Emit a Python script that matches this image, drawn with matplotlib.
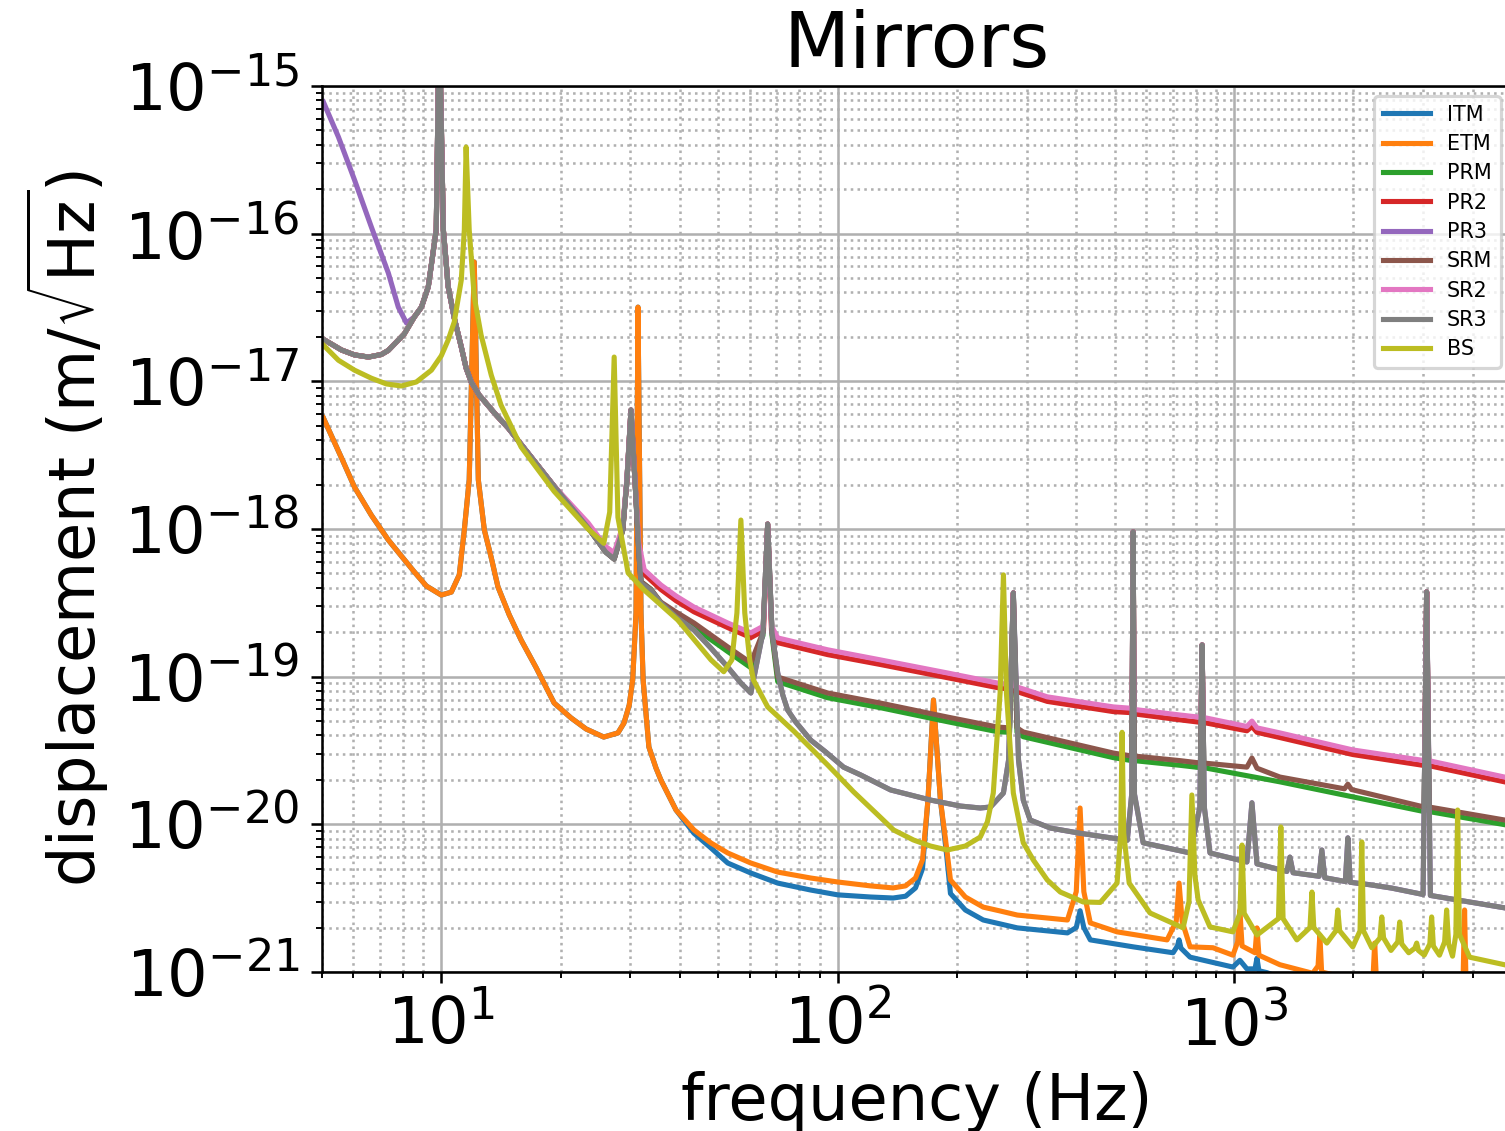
import matplotlib
matplotlib.use("Agg")
import matplotlib.pyplot as plt

plt.rcParams['font.size'] = 20

# frequencies in Hz, displacement in m/sqrt(Hz)

# low frequency part shared by the small optics (SR3 traced)
tt_low_f = [5.0, 5.6, 6.04, 6.55, 7.06, 7.35, 8.07, 8.55, 8.91, 9.27,
            9.71, 9.88, 10.12, 10.41, 10.78, 11.23, 11.55, 11.9, 12.46, 13.75,
            14.75, 19.26]
tt_low_v = [1.95e-17, 1.63e-17, 1.51e-17, 1.46e-17, 1.52e-17, 1.62e-17, 2.1e-17, 2.73e-17, 3.18e-17, 4.36e-17,
            1.06e-16, 3e-15, 1.06e-16, 4.36e-17, 2.69e-17, 1.71e-17, 1.23e-17, 9.9e-18, 8.07e-18, 5.92e-18,
            4.83e-18, 1.95e-18]

# PR3 only shows below 9 Hz, above that it sits under SR3
pr3_low_f = [5.04, 5.5, 6.04, 6.66, 7.35, 7.79, 8.17]
pr3_low_v = [7.8e-16, 4.52e-16, 2.31e-16, 1.11e-16, 5.42e-17, 3.18e-17, 2.48e-17]

sr3_f = [23.46, 26.0, 27.3, 28.7, 29.4, 30.1, 30.8, 31.5, 31.9, 33.8,
         35.8, 39.1, 43.4, 47.9, 52.8, 57.0, 60.4, 64.8, 66.6, 68.3,
         70.6, 72.7, 74.8, 78.4, 85.5, 93.3, 103.5, 114.3, 136, 171.5,
         204, 229, 243, 262, 270, 277.5, 286, 294, 306, 344,
         409, 538, 552, 556.6, 561, 590, 775, 820, 831, 842,
         870, 1078, 1110, 1143, 1360, 1384, 1410, 1640, 1666, 1695,
         1910, 1938, 1965, 2201, 2500, 3000, 3063, 3130, 4815]
sr3_v = [1.02e-18, 6.98e-19, 6.26e-19, 9.85e-19, 2.15e-18, 6.4e-18, 2.15e-18, 7.0e-19, 4.3e-19, 3.86e-19,
         3.16e-19, 2.54e-19, 2.07e-19, 1.56e-19, 1.16e-19, 9.06e-20, 7.75e-20, 2.0e-19, 1.08e-18, 2.0e-19,
         1.06e-19, 7.52e-20, 5.94e-20, 4.93e-20, 3.72e-20, 3.09e-20, 2.44e-20, 2.16e-20, 1.71e-20, 1.46e-20,
         1.33e-20, 1.29e-20, 1.31e-20, 1.63e-20, 2.73e-20, 3.69e-19, 2.73e-20, 1.46e-20, 1.07e-20, 9.44e-21,
         8.7e-21, 7.8e-21, 1.6e-20, 9.55e-19, 1.6e-20, 7.5e-21, 6.4e-21, 1.3e-20, 1.64e-19, 1.3e-20,
         6.4e-21, 5.56e-21, 1.4e-20, 5.4e-21, 4.8e-21, 6.0e-21, 4.7e-21, 4.45e-21, 6.7e-21, 4.35e-21,
         4.1e-21, 8.1e-21, 4.05e-21, 3.9e-21, 3.7e-21, 3.35e-21, 3.75e-19, 3.3e-21, 2.72e-21]

sr2_f = [23.46, 26.0, 27.3, 28.7, 29.4, 30.1, 30.8, 31.5, 32.5, 35.8,
         39.1, 43.4, 52.8, 60.4, 65.0, 66.6, 68.1, 70.6, 94.4, 128,
         189, 253, 274.5, 277.5, 280.5, 338, 496, 553.5, 556.6, 559.7,
         731, 826, 831, 836, 1078, 1110, 1143, 1306, 1994, 3027,
         3063, 3099, 4815]
sr2_v = [1.1e-18, 7.6e-19, 6.9e-19, 1.05e-18, 2.2e-18, 6.4e-18, 2.2e-18, 8.0e-19, 5.3e-19, 4.18e-19,
         3.52e-19, 2.96e-19, 2.31e-19, 1.98e-19, 2.2e-19, 1.08e-18, 2.2e-19, 1.83e-19, 1.52e-19, 1.3e-19,
         1.06e-19, 9.06e-20, 8.8e-20, 3.69e-19, 8.6e-20, 7.3e-20, 6.24e-20, 6.1e-20, 9.55e-19, 6.0e-20,
         5.5e-20, 5.3e-20, 1.64e-19, 5.3e-20, 4.6e-20, 5.0e-20, 4.5e-20, 4.16e-20, 3.19e-20, 2.7e-20,
         3.75e-19, 2.7e-20, 2.09e-20]
pr2_v = [1.05e-18, 7.3e-19, 6.6e-19, 1.0e-18, 2.15e-18, 6.4e-18, 2.15e-18, 7.6e-19, 4.95e-19, 3.9e-19,
         3.27e-19, 2.75e-19, 2.15e-19, 1.84e-19, 2.05e-19, 1.08e-18, 2.05e-19, 1.7e-19, 1.41e-19, 1.21e-19,
         9.85e-20, 8.43e-20, 8.2e-20, 3.69e-19, 8.0e-20, 6.8e-20, 5.8e-20, 5.7e-20, 9.55e-19, 5.6e-20,
         5.1e-20, 4.9e-20, 1.64e-19, 4.9e-20, 4.3e-20, 4.6e-20, 4.2e-20, 3.87e-20, 2.97e-20, 2.5e-20,
         3.75e-19, 2.5e-20, 1.94e-20]

srm_f = [23.46, 26.0, 27.3, 28.7, 29.4, 30.1, 30.8, 31.5, 31.9, 33.8,
         35.8, 39.1, 43.4, 52.8, 60.4, 64.8, 66.6, 68.3, 70.6, 94.4,
         128, 189, 253, 271.5, 277.5, 283.5, 294, 496, 552.6, 556.6,
         560.6, 731, 823, 831, 839, 1078, 1110, 1143, 1306, 1900,
         1938, 1980, 3018, 3063, 3108, 4815]
srm_v = [1.02e-18, 6.98e-19, 6.26e-19, 9.85e-19, 2.15e-18, 6.4e-18, 2.15e-18, 7.0e-19, 4.4e-19, 3.9e-19,
         3.2e-19, 2.74e-19, 2.31e-19, 1.59e-19, 1.24e-19, 2.0e-19, 1.08e-18, 2.0e-19, 9.95e-20, 7.75e-20,
         6.63e-20, 5.33e-20, 4.56e-20, 4.5e-20, 3.69e-19, 4.5e-20, 4.22e-20, 3.04e-20, 2.9e-20, 9.55e-19,
         2.9e-20, 2.7e-20, 2.6e-20, 1.64e-19, 2.6e-20, 2.44e-20, 2.81e-20, 2.4e-20, 2.09e-20, 1.74e-20,
         1.87e-20, 1.72e-20, 1.31e-20, 3.75e-19, 1.31e-20, 1.07e-20]

prm_f = [23.46, 26.0, 27.3, 28.7, 29.4, 30.1, 30.8, 31.5, 31.9, 33.8,
         35.8, 39.1, 43.4, 52.8, 60.4, 64.8, 66.6, 68.3, 70.6, 94.4,
         128, 189, 253, 271.5, 277.5, 283.5, 294, 496, 552.6, 556.6,
         560.6, 731, 823, 831, 839, 1306, 3018, 3063, 3108, 4815]
prm_v = [1.02e-18, 6.98e-19, 6.26e-19, 9.85e-19, 2.15e-18, 6.4e-18, 2.15e-18, 7.0e-19, 4.4e-19, 3.9e-19,
         3.15e-19, 2.7e-19, 2.15e-19, 1.48e-19, 1.15e-19, 1.9e-19, 1.08e-18, 1.9e-19, 9.25e-20, 7.2e-20,
         6.17e-20, 4.96e-20, 4.24e-20, 4.2e-20, 3.69e-19, 4.2e-20, 3.92e-20, 2.83e-20, 2.7e-20, 9.55e-19,
         2.7e-20, 2.51e-20, 2.42e-20, 1.64e-19, 2.42e-20, 1.94e-20, 1.22e-20, 3.75e-19, 1.22e-20, 9.95e-21]

# test masses, identical below 40 Hz
tm_low_f = [5.04, 5.6, 6.04, 6.66, 7.35, 7.93, 8.55, 9.17, 10.0, 10.6,
            11.1, 11.43, 11.76, 12.11, 12.4, 12.84, 13.37, 13.9, 14.84, 15.9,
            17.35, 19.26, 21.26, 23.2, 25.7, 27.9, 28.9, 29.8, 30.4, 31.0,
            31.35, 31.9, 32.3, 33.4, 34.8, 35.8, 39.1]
tm_low_v = [5.65e-18, 3.03e-18, 1.92e-18, 1.24e-18, 8.43e-19, 6.56e-19, 5.12e-19, 4.11e-19, 3.57e-19, 3.74e-19,
            4.89e-19, 9.85e-19, 2.15e-18, 6.43e-17, 2.15e-18, 9.85e-19, 6.37e-19, 4.05e-19, 2.62e-19, 1.77e-19,
            1.15e-19, 6.63e-20, 5.25e-20, 4.42e-20, 3.9e-20, 4.16e-20, 4.85e-20, 6.43e-20, 9.5e-20, 2.7e-19,
            3.18e-17, 2.7e-19, 9.5e-20, 3.34e-20, 2.41e-20, 2.0e-20, 1.25e-20]

etm_f = [43.4, 47.9, 52.8, 60.4, 70.6, 85.5, 100, 121, 138, 148.4,
         157.2, 163.7, 169, 174.5, 181.7, 188.6, 192.6, 210, 233, 257,
         284, 380, 400, 409, 418, 434, 507, 678, 715, 727,
         740, 775, 885, 994, 1022, 1035, 1048, 1130, 1143, 1156,
         1306, 1580, 1630, 1647, 1664, 1926, 2240, 2265, 2290, 3100,
         3780, 3818, 3856, 4815]
etm_v = [9.16e-21, 7.48e-21, 6.4e-21, 5.47e-21, 4.75e-21, 4.33e-21, 4.07e-21, 3.83e-21, 3.71e-21, 3.83e-21,
         4.33e-21, 5.74e-21, 1.46e-20, 6.95e-20, 1.46e-20, 6.7e-21, 4.2e-21, 3.22e-21, 2.75e-21, 2.59e-21,
         2.43e-21, 2.25e-21, 3.5e-21, 1.29e-20, 3.5e-21, 2.15e-21, 1.87e-21, 1.65e-21, 2.2e-21, 4.0e-21,
         2.2e-21, 1.48e-21, 1.46e-21, 1.3e-21, 1.6e-21, 2.63e-21, 1.5e-21, 1.35e-21, 1.99e-21, 1.3e-21,
         1.12e-21, 9.8e-22, 1.1e-21, 1.78e-21, 1.0e-21, 9.1e-22, 8.5e-22, 1.57e-21, 8.3e-22, 7.0e-22,
         7.5e-22, 2.63e-21, 6.8e-22, 6.0e-22]

itm_f = [43.4, 47.9, 52.8, 60.4, 70.6, 85.5, 100, 121, 138, 148.4,
         157.2, 163.7, 169, 174.5, 181.7, 188.6, 192.6, 210, 233, 284,
         380, 400, 409, 418, 434, 557, 702, 720, 727, 735,
         775, 994, 1035, 1078, 1130, 1143, 1156, 1211, 1500, 4815]
itm_v = [8.7e-21, 6.92e-21, 5.47e-21, 4.68e-21, 4.0e-21, 3.59e-21, 3.33e-21, 3.22e-21, 3.17e-21, 3.26e-21,
         3.71e-21, 5.0e-21, 1.46e-20, 6.95e-20, 1.46e-20, 6.0e-21, 3.4e-21, 2.63e-21, 2.25e-21, 1.99e-21,
         1.84e-21, 2.0e-21, 2.6e-21, 2.0e-21, 1.65e-21, 1.48e-21, 1.35e-21, 1.5e-21, 1.65e-21, 1.45e-21,
         1.26e-21, 1.08e-21, 1.2e-21, 1.05e-21, 1.05e-21, 1.24e-21, 1.02e-21, 9.9e-22, 8.0e-22, 4.5e-22]

bs_f = [5.04, 5.5, 6.04, 6.66, 7.27, 7.93, 8.65, 9.44, 10.0, 10.41,
        10.78, 11.23, 11.43, 11.55, 11.76, 12.11, 12.6, 13.37, 14.15, 15.9,
        19.26, 23.46, 25.7, 26.6, 27.3, 27.9, 29.6, 32.5, 39.5, 47.9,
        51.6, 54.1, 55.7, 57.0, 58.3, 60.0, 61.3, 66.6, 77.5, 94.4,
        109.7, 128, 138.4, 155.4, 171.5, 189, 210, 229, 238.7, 247,
        257, 262, 266.6, 277.5, 294, 311.6, 338, 364.6, 416.5, 460,
        507, 518, 522, 527, 544, 614, 744, 770, 783, 797,
        812, 870, 994, 1035, 1048, 1061, 1143, 1295, 1313, 1330,
        1441, 1555, 1573, 1590, 1715, 1808, 1828, 1848, 1994, 2080,
        2101, 2122, 2227, 2335, 2360, 2385, 2490, 2590, 2619, 2650,
        2760, 2860, 2891, 2920, 3020, 3120, 3153, 3185, 3300, 3400,
        3440, 3480, 3560, 3630, 3667, 3705, 3931, 4815]
bs_v = [1.76e-17, 1.39e-17, 1.19e-17, 1.05e-17, 9.6e-18, 9.3e-18, 9.9e-18, 1.19e-17, 1.49e-17, 1.91e-17,
        2.52e-17, 4.85e-17, 1.06e-16, 3.86e-16, 1.06e-16, 3.72e-17, 2.06e-17, 1.1e-17, 6.9e-18, 3.59e-18,
        1.8e-18, 1.0e-18, 8.0e-19, 1.3e-18, 1.46e-17, 1.2e-18, 5.04e-19, 3.86e-19, 2.42e-19, 1.3e-19,
        1.08e-19, 1.3e-19, 2.7e-19, 1.15e-18, 2.7e-19, 1.3e-19, 9.5e-20, 6.24e-20, 4.28e-20, 2.52e-20,
        1.66e-20, 1.12e-20, 9.16e-21, 7.83e-21, 7.13e-21, 6.7e-21, 7.13e-21, 8.2e-21, 1.04e-20, 1.63e-20,
        7.75e-20, 4.89e-19, 7.75e-20, 1.63e-20, 7.5e-21, 5.74e-21, 4.2e-21, 3.48e-21, 2.98e-21, 2.96e-21,
        4.0e-21, 8.7e-21, 4.2e-20, 8.7e-21, 4.0e-21, 2.51e-21, 1.99e-21, 3.0e-21, 1.58e-20, 4.5e-21,
        3.08e-21, 2.02e-21, 1.87e-21, 2.5e-21, 7.24e-21, 2.5e-21, 1.78e-21, 2.3e-21, 9.6e-21, 2.3e-21,
        1.65e-21, 2.0e-21, 3.48e-21, 2.0e-21, 1.57e-21, 1.9e-21, 2.63e-21, 1.9e-21, 1.48e-21, 1.9e-21,
        7.6e-21, 1.9e-21, 1.46e-21, 1.7e-21, 2.36e-21, 1.7e-21, 1.4e-21, 1.6e-21, 2.18e-21, 1.55e-21,
        1.35e-21, 1.45e-21, 1.57e-21, 1.4e-21, 1.3e-21, 1.55e-21, 2.36e-21, 1.5e-21, 1.3e-21, 1.6e-21,
        2.63e-21, 1.55e-21, 1.28e-21, 1.8e-21, 1.25e-20, 1.8e-21, 1.26e-21, 1.12e-21]

x_ticks = [10, 100, 1000]
y_ticks = [1e-21, 1e-20, 1e-19, 1e-18, 1e-17, 1e-16, 1e-15]

# PR3 joins the shared curve after its own low-frequency branch
pr3_join_f = [f for f in tt_low_f if f >= 8.5]
pr3_join_v = [v for f, v in zip(tt_low_f, tt_low_v) if f >= 8.5]

series = [
    ("ITM", tm_low_f + itm_f, tm_low_v + itm_v),
    ("ETM", tm_low_f + etm_f, tm_low_v + etm_v),
    ("PRM", tt_low_f + prm_f, tt_low_v + prm_v),
    ("PR2", tt_low_f + sr2_f, tt_low_v + pr2_v),
    ("PR3", pr3_low_f + pr3_join_f + sr3_f, pr3_low_v + pr3_join_v + sr3_v),
    ("SRM", tt_low_f + srm_f, tt_low_v + srm_v),
    ("SR2", tt_low_f + sr2_f, tt_low_v + sr2_v),
    ("SR3", tt_low_f + sr3_f, tt_low_v + sr3_v),
    ("BS", bs_f, bs_v),
]

fig = plt.figure(figsize=(1505 / 230, 1131 / 230), dpi=230)
ax = fig.add_axes([322 / 1505, 1 - 972 / 1131, (1511 - 322) / 1505, (972 - 86) / 1131])

for name, f, v in series:
    ax.plot(f, v, label=name, lw=1.6)

ax.set_xscale('log')
ax.set_yscale('log')
ax.set_xticks(x_ticks)
ax.set_yticks(y_ticks)
ax.set_xlim(5, 5000)
ax.set_ylim(1e-21, 1e-15)
ax.grid(True, which='major', ls='-')
ax.grid(True, which='minor', ls=':')

ax.set_title("Mirrors")
ax.set_xlabel("frequency (Hz)")
ax.set_ylabel(r"displacement (m/$\sqrt{\mathrm{Hz}}$)")
ax.legend(loc='upper right', fontsize=6.5, handlelength=2.3, labelspacing=0.45)

fig.savefig("out.png", dpi=230)
